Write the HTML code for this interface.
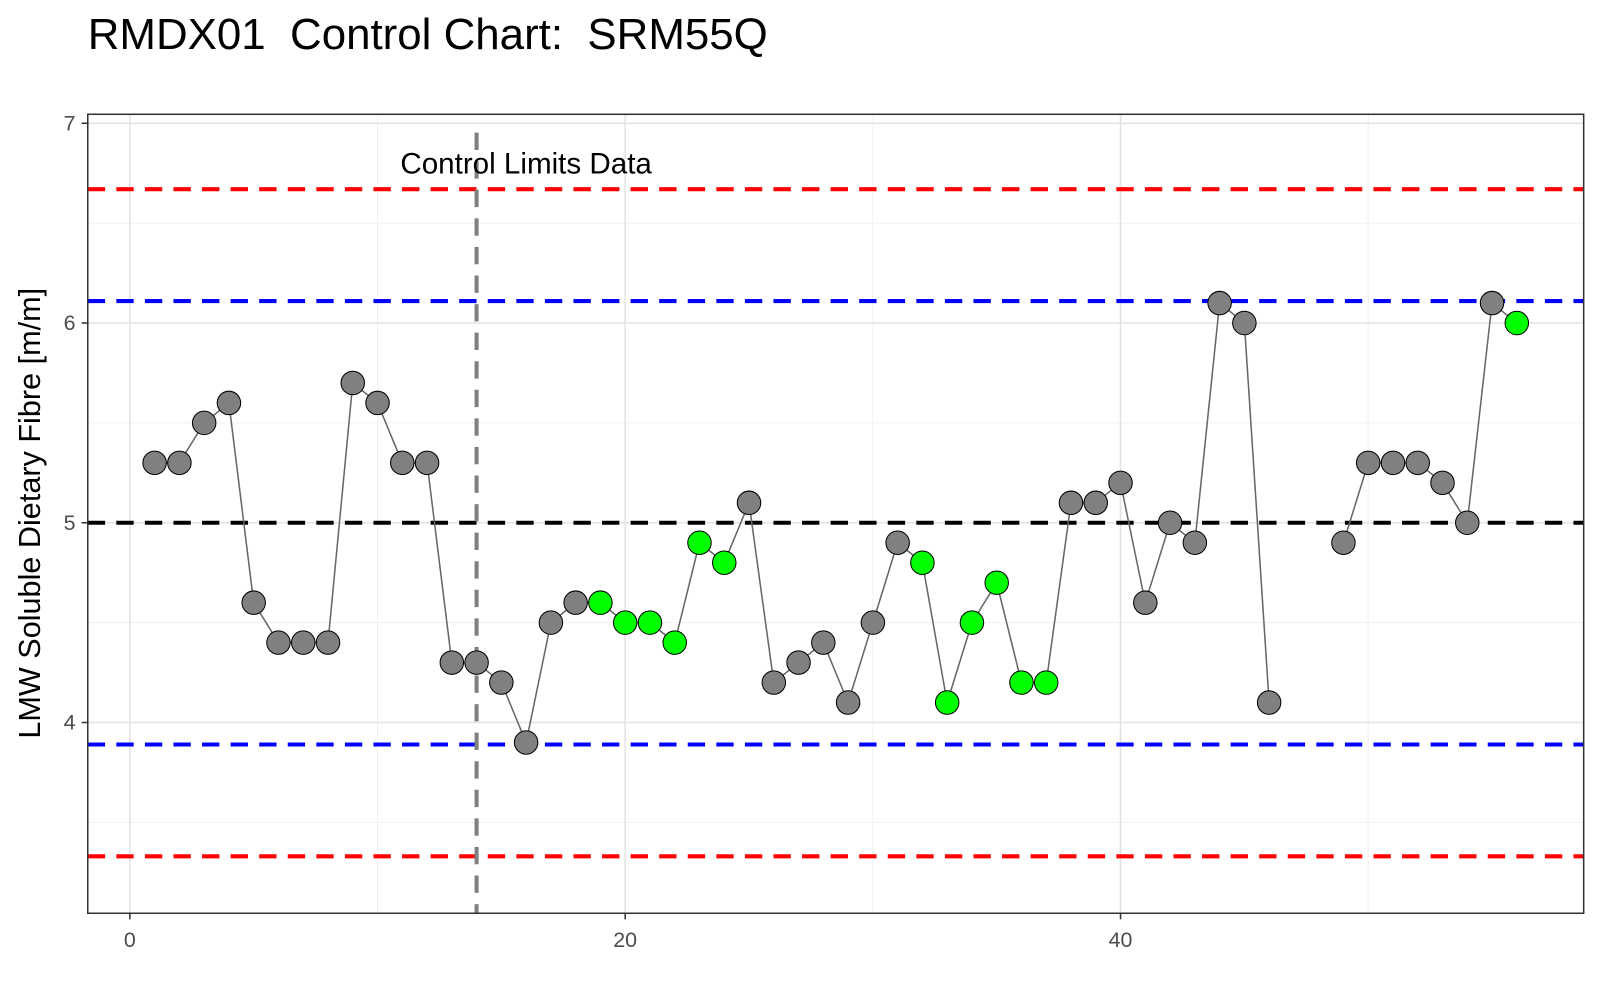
<!DOCTYPE html>
<html><head><meta charset="utf-8"><style>
body{margin:0;background:#fff;font-family:"Liberation Sans",sans-serif;}
svg{display:block;}
</style></head><body>
<svg id="chart" width="1600" height="1000" viewBox="0 0 1568 980" preserveAspectRatio="none" xmlns="http://www.w3.org/2000/svg">
<text x="86" y="48" font-size="43" fill="#000" style="white-space:pre" xml:space="preserve" font-family="Liberation Sans, sans-serif">RMDX01  Control Chart:  SRM55Q</text>
<g id="plot"></g>
</svg>
<script>
const xs = [1,2,3,4,5,6,7,8,9,10,11,12,13,14,15,16,17,18,19,20,21,22,23,24,25,26,27,28,29,30,31,32,33,34,35,36,37,38,39,40,41,42,43,44,45,46,47,48,49,50,51,52,53,54,55,56];
const values = [5.3,5.3,5.5,5.6,4.6,4.4,4.4,4.4,5.7,5.6,5.3,5.3,4.3,4.3,4.2,3.9,4.5,4.6,4.6,4.5,4.5,4.4,4.9,4.8,5.1,4.2,4.3,4.4,4.1,4.5,4.9,4.8,4.1,4.5,4.7,4.2,4.2,5.1,5.1,5.2,4.6,5.0,4.9,6.1,6.0,4.1,null,null,4.9,5.3,5.3,5.3,5.2,5.0,6.1,6.0];
const flags = [0,0,0,0,0,0,0,0,0,0,0,0,0,0,0,0,0,0,1,1,1,1,1,1,0,0,0,0,0,0,0,1,1,1,1,1,1,0,0,0,0,0,0,0,0,0,0,0,0,0,0,0,0,0,0,1];
const xTicks = [0,20,40];
const yTicks = [4,5,6,7];
const centerLine = 5.0;
const warnLimits = [6.11,3.89];
const ctrlLimits = [6.67,3.33];
const splitX = 14;

const L=86,R=1552,T=112,B=895;
const xMin=-1.7,xMax=58.7,yMin=3.045,yMax=7.045;
const sx=v=>L+(v-xMin)/(xMax-xMin)*(R-L);
const sy=v=>B-(v-yMin)/(yMax-yMin)*(B-T);
const NS="http://www.w3.org/2000/svg";
const g=document.getElementById('plot');
function mk(tag,attrs,parent){const e=document.createElementNS(NS,tag);for(const k in attrs)e.setAttribute(k,attrs[k]);(parent||g).appendChild(e);return e;}

[10,30,50].forEach(v=>{const e=mk('line',{x1:sx(v),x2:sx(v),y1:T,y2:B,stroke:'#f0f0f0','stroke-width':1});

});
[3.5,4.5,5.5,6.5].forEach(v=>{const e=mk('line',{x1:L,x2:R,y1:sy(v),y2:sy(v),stroke:'#f0f0f0','stroke-width':1});

});
xTicks.forEach(v=>{const e=mk('line',{x1:sx(v),x2:sx(v),y1:T,y2:B,stroke:'#e3e3e3','stroke-width':1.5});

});
yTicks.forEach(v=>{const e=mk('line',{x1:L,x2:R,y1:sy(v),y2:sy(v),stroke:'#e3e3e3','stroke-width':1.5});

});

function hline(v,color,name){const e=mk('line',{x1:L,x2:R,y1:sy(v),y2:sy(v),stroke:color,'stroke-width':4,'stroke-dasharray':'17,11'});

}
ctrlLimits.forEach(v=>hline(v,'#ff0000','control-limit-line'));
warnLimits.forEach(v=>hline(v,'#0000ff','warning-limit-line'));
hline(centerLine,'#000000','center-line');
const vl=mk('line',{x1:sx(splitX),x2:sx(splitX),y1:T+18,y2:B,stroke:'#808080','stroke-width':4,'stroke-dasharray':'17,11'});


const lbl=mk('text',{x:sx(16),y:sy(6.8)+10,'font-size':29,'text-anchor':'middle',fill:'#000','font-family':'Liberation Sans, sans-serif'});
lbl.textContent='Control Limits Data';



let seg=[];
function flush(){if(seg.length>1){const p=mk('polyline',{points:seg.join(' '),fill:'none',stroke:'#666','stroke-width':1.5});

}seg=[];}
xs.forEach((x,i)=>{if(values[i]==null){flush();}else seg.push(sx(x)+','+sy(values[i]));});
flush();
xs.forEach((x,i)=>{if(values[i]==null)return;const c=mk('circle',{cx:sx(x),cy:sy(values[i]),r:11.5,fill:flags[i]?'#00ff00':'#808080',stroke:'#000','stroke-width':1});

});

const br=mk('rect',{x:L,y:T,width:R-L,height:B-T,fill:'none',stroke:'#333','stroke-width':1.5});



xTicks.forEach(v=>{mk('line',{x1:sx(v),x2:sx(v),y1:B,y2:B+6,stroke:'#333','stroke-width':1.5});
const t=mk('text',{x:sx(v),y:B+33,'font-size':21,'text-anchor':'middle',fill:'#4d4d4d','font-family':'Liberation Sans, sans-serif'});t.textContent=v;

});
yTicks.forEach(v=>{mk('line',{x1:L-6,x2:L,y1:sy(v),y2:sy(v),stroke:'#333','stroke-width':1.5});
const t=mk('text',{x:L-12,y:sy(v)+7,'font-size':21,'text-anchor':'end',fill:'#4d4d4d','font-family':'Liberation Sans, sans-serif'});t.textContent=v;

});
const yt=mk('text',{x:0,y:0,'font-size':30,'text-anchor':'middle',fill:'#000',transform:'translate(39,503) rotate(-90)','font-family':'Liberation Sans, sans-serif'});
yt.textContent='LMW Soluble Dietary Fibre [m/m]';


</script>
</body></html>
